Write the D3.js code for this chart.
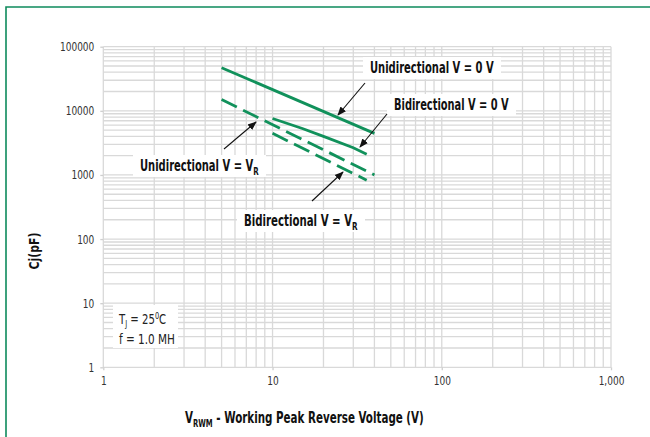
<!DOCTYPE html>
<html><head><meta charset="utf-8">
<script src="https://cdn.jsdelivr.net/npm/d3@7"></script>
<style>
html,body{margin:0;padding:0;background:#fff;}
svg{display:block;}
</style></head>
<body>
<svg id="c" width="650" height="437"></svg>
<script>
// ---- data ----
const xTickValues = [1, 10, 100, 1000];
const xTickLabels = ["1", "10", "100", "1,000"];
const yTickValues = [1, 10, 100, 1000, 10000, 100000];
const yTickLabels = ["1", "10", "100", "1000", "10000", "100000"];

const uniV0_x = [5, 40];
const uniV0_y = [47000, 4450];
const biV0_x = [10, 15, 20, 30, 36];
const biV0_y = [7600, 5300, 4000, 2650, 2100];
const uniVR_x = [5, 40];
const uniVR_y = [15000, 1000];
const biVR_x = [10, 36];
const biVR_y = [4450, 830];

const seriesNames = ["Unidirectional V = 0 V", "Bidirectional V = 0 V", "Unidirectional V = V", "Bidirectional V = V"];

// ---- layout ----
const W = 650, H = 437;
const plot = {left: 103.3, right: 611, top: 46.7, bottom: 367.3};
const GREEN = "#11915b";
const FONT = "'Liberation Sans Narrow','DejaVu Sans Condensed','Roboto Condensed',Arial,sans-serif";

const svg = d3.select("#c");
svg.append("rect").attr("width", W).attr("height", H).attr("fill", "#fff");

// frame
svg.append("path").attr("d", `M6,${H+2} L6,7 L${W+2},7`)
  .attr("fill", "none").attr("stroke", "#0e8a5c").attr("stroke-width", 1.6);

const x = d3.scaleLog().domain([1, 1000]).range([plot.left, plot.right]);
const y = d3.scaleLog().domain([1, 100000]).range([plot.bottom, plot.top]);

// helper: horizontally condense a text element to a target width, anchored at ax
function fitWidth(node, target, ax) {
  const bb = node.getBBox();
  const s = target / bb.width;
  const x0 = ax === undefined ? bb.x : ax;
  d3.select(node).attr("transform", `translate(${x0},0) scale(${s},1) translate(${-x0},0)`);
}

// grid
const gridX = [], gridY = [];
for (let d = 1; d < 1000; d *= 10) for (let m = 1; m <= 10; m++) gridX.push(d * m);
for (let d = 1; d < 100000; d *= 10) for (let m = 1; m <= 10; m++) gridY.push(d * m);
const g = svg.append("g");
g.selectAll(".gx").data(Array.from(new Set(gridX))).enter().append("line")
  .attr("x1", d => x(d)).attr("x2", d => x(d))
  .attr("y1", plot.top).attr("y2", plot.bottom)
  .attr("stroke", "#d9d9d9").attr("stroke-width", 1.3);
g.selectAll(".gy").data(Array.from(new Set(gridY))).enter().append("line")
  .attr("y1", d => y(d)).attr("y2", d => y(d))
  .attr("x1", plot.left).attr("x2", plot.right)
  .attr("stroke", "#d9d9d9").attr("stroke-width", 1.3);

// axes
const xAxis = d3.axisBottom(x).tickValues(xTickValues)
  .tickFormat((d, i) => xTickLabels[i]).tickSize(3).tickPadding(6);
const yAxis = d3.axisLeft(y).tickValues(yTickValues)
  .tickFormat((d, i) => yTickLabels[i]).tickSize(3).tickPadding(6);
const gx = svg.append("g").attr("transform", `translate(0,${plot.bottom})`).call(xAxis);
const gy = svg.append("g").attr("transform", `translate(${plot.left},0)`).call(yAxis);
[gx, gy].forEach(a => {
  a.select(".domain").remove();
  a.selectAll(".tick line").attr("stroke", "#cfcfcf").attr("stroke-width", 1.3);
  a.selectAll(".tick text").attr("font-family", FONT).attr("font-size", 12.5)
    .attr("fill", "#333")
    .each(function() {
      const L = this.getComputedTextLength();
      d3.select(this).attr("textLength", L * 0.8).attr("lengthAdjust", "spacingAndGlyphs");
    });
});

// lines
const line = d3.line().x(d => x(d[0])).y(d => y(d[1]));
function zip(a, b) { return a.map((v, i) => [v, b[i]]); }
const series = [
  {name: seriesNames[0], pts: zip(uniV0_x, uniV0_y), dash: null},
  {name: seriesNames[1], pts: zip(biV0_x, biV0_y), dash: null},
  {name: seriesNames[2], pts: zip(uniVR_x, uniVR_y), dash: "17,7"},
  {name: seriesNames[3], pts: zip(biVR_x, biVR_y), dash: "17,7"}
];
svg.append("g").selectAll("path").data(series).enter().append("path")
  .attr("d", d => line(d.pts))
  .attr("fill", "none").attr("stroke", GREEN).attr("stroke-width", 2.8)
  .attr("stroke-dasharray", d => d.dash);

// arrow marker
svg.append("defs").append("marker").attr("id", "ah")
  .attr("viewBox", "0 0 10 10").attr("refX", 9).attr("refY", 5)
  .attr("markerWidth", 9).attr("markerHeight", 9).attr("orient", "auto")
  .attr("markerUnits", "userSpaceOnUse")
  .append("path").attr("d", "M0,1 L10,5 L0,9 Z").attr("fill", "#111");

// annotations
const annots = [
  {text: seriesNames[0], sub: null, x: 370, y: 68, w: 124, arrow: [365, 83, 338, 115]},
  {text: seriesNames[1], sub: null, x: 394, y: 105, w: 115, arrow: [387, 114, 360, 147]},
  {text: seriesNames[2], sub: "R", x: 140, y: 166, w: 119, arrow: [224, 149, 256, 122]},
  {text: seriesNames[3], sub: "R", x: 244, y: 221, w: 114, arrow: [312, 201, 343, 172]}
];
const ag = svg.append("g");
annots.forEach(a => {
  const grp = ag.append("g");
  grp.append("rect").attr("fill", "#fff")
    .attr("x", a.x - 7).attr("y", a.y - 11).attr("width", a.w + 14).attr("height", 22);
  const t = grp.append("text").attr("x", a.x).attr("y", a.y + 5.5)
    .attr("font-family", FONT).attr("font-weight", "bold").attr("font-size", 15.5)
    .attr("fill", "#111");
  t.append("tspan").text(a.text);
  if (a.sub) t.append("tspan").attr("font-size", 11).attr("dy", 4).text(a.sub);
  fitWidth(t.node(), a.w, a.x);
  ag.append("line").attr("x1", a.arrow[0]).attr("y1", a.arrow[1])
    .attr("x2", a.arrow[2]).attr("y2", a.arrow[3])
    .attr("stroke", "#111").attr("stroke-width", 1.1).attr("marker-end", "url(#ah)");
});

// conditions box
const cg = svg.append("g");
cg.append("rect").attr("x", 113).attr("y", 305).attr("width", 65).attr("height", 43).attr("fill", "#fff");
const t1 = cg.append("text").attr("x", 119).attr("y", 324)
  .attr("font-family", FONT).attr("font-size", 14.5).attr("fill", "#222");
t1.append("tspan").text("T");
t1.append("tspan").attr("font-size", 9.5).attr("dy", 3).text("J");
t1.append("tspan").attr("dy", -3).text(" = 25");
t1.append("tspan").attr("font-size", 9.5).attr("dy", -5).text("0");
t1.append("tspan").attr("dy", 5).text("C");
fitWidth(t1.node(), 48, 119);
const t2 = cg.append("text").attr("x", 119).attr("y", 344)
  .attr("font-family", FONT).attr("font-size", 14.5).attr("fill", "#222").text("f = 1.0 MH");
fitWidth(t2.node(), 56, 119);

// axis titles
const yt = svg.append("g").attr("transform", "translate(39,249) rotate(-90)");
const ytt = yt.append("text").attr("x", 0).attr("y", 0)
  .attr("text-anchor", "middle").attr("font-family", FONT).attr("font-weight", "bold")
  .attr("font-size", 13.5).attr("fill", "#111").text("Cj(pF)");
fitWidth(ytt.node(), 37);
const xt = svg.append("text").attr("x", 185).attr("y", 423)
  .attr("font-family", FONT).attr("font-weight", "bold").attr("font-size", 15).attr("fill", "#111");
xt.append("tspan").text("V");
xt.append("tspan").attr("font-size", 10).attr("dy", 4).text("RWM");
xt.append("tspan").attr("dy", -4).text(" - Working Peak Reverse Voltage (V)");
fitWidth(xt.node(), 239, 185);
</script>
</body></html>
